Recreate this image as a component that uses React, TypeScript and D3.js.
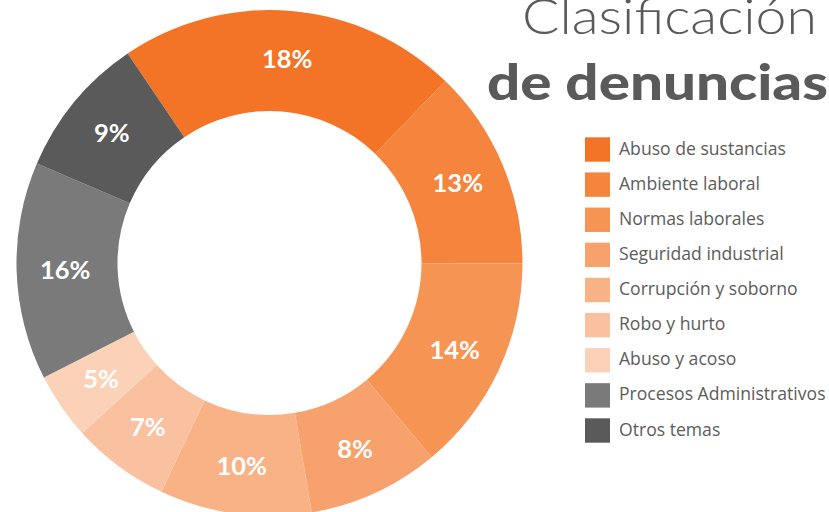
import React from "react";
import * as d3 from "d3";

const categories = [
  "Abuso de sustancias",
  "Ambiente laboral",
  "Normas laborales",
  "Seguridad industrial",
  "Corrupción y soborno",
  "Robo y hurto",
  "Abuso y acoso",
  "Procesos Administrativos",
  "Otros temas",
];
// share of the ring each slice occupies
const arcShares = [21.7, 12.8, 13.9, 8.4, 9.7, 6.25, 4.25, 13.9, 9.1];
const pctLabels = ["18%", "13%", "14%", "8%", "10%", "7%", "5%", "16%", "9%"];
const colors = [
  "#F37327",
  "#F5843D",
  "#F69454",
  "#F7A26D",
  "#F8B286",
  "#F9C19F",
  "#FBD2B8",
  "#7A7A7A",
  "#5A5A5A",
];
const titleLine1 = "Clasificación";
const titleLine2 = "de denuncias";

const W = 829;
const H = 512;
const cx = 269.5;
const cy = 263;
const rOuter = 253;
const rInner = 152;
const start = (-34.1 * Math.PI) / 180;

export default function App() {
  const pie = d3
    .pie<number>()
    .sort(null)
    .value((d) => d)
    .startAngle(start)
    .endAngle(start + 2 * Math.PI);
  const arcs = pie(arcShares);
  const arc = d3
    .arc<d3.PieArcDatum<number>>()
    .innerRadius(rInner)
    .outerRadius(rOuter);
  const labelArc = d3
    .arc<d3.PieArcDatum<number>>()
    .innerRadius(rInner + 2)
    .outerRadius(rOuter + 2);

  const legendY = d3
    .scaleLinear()
    .domain([0, categories.length - 1])
    .range([137.3, 418.3]);

  return (
    <svg
      width={W}
      height={H}
      style={{ position: "absolute", left: 0, top: 0, display: "block" }}
    >
      <rect width={W} height={H} fill="#ffffff" />
      <g transform={`translate(${cx},${cy})`}>
        {arcs.map((a, i) => (
          <path key={i} d={arc(a) || ""} fill={colors[i]} />
        ))}
        {arcs.map((a, i) => {
          const [x, y] = labelArc.centroid(a);
          return (
            <text
              key={"l" + i}
              x={x}
              y={y}
              dy="0.36em"
              textAnchor="middle"
              fill="#ffffff"
              fontFamily="Lato, 'Open Sans', sans-serif"
              fontWeight={700}
              fontSize={25.5}
            >
              {pctLabels[i]}
            </text>
          );
        })}
      </g>

      <text
        x={817}
        y={33.5}
        textAnchor="end"
        fill="#5A5A5A"
        fontFamily="Lato, sans-serif"
        fontWeight={300}
        fontSize={50}
        textLength={295}
        lengthAdjust="spacingAndGlyphs"
      >
        {titleLine1}
      </text>
      <text
        x={828}
        y={99.5}
        textAnchor="end"
        fill="#5A5A5A"
        fontFamily="Lato, sans-serif"
        fontWeight={900}
        fontSize={49}
        textLength={341}
        lengthAdjust="spacingAndGlyphs"
      >
        {titleLine2}
      </text>

      <g>
        {categories.map((c, i) => {
          const y = legendY(i);
          return (
            <g key={c}>
              <rect x={585} y={y} width={25} height={24.4} fill={colors[i]} />
              <text
                x={619}
                y={y + 17.3}
                fill="#5C5C5C"
                fontFamily="'Open Sans', sans-serif"
                fontSize={17.6}
              >
                {c}
              </text>
            </g>
          );
        })}
      </g>
    </svg>
  );
}
